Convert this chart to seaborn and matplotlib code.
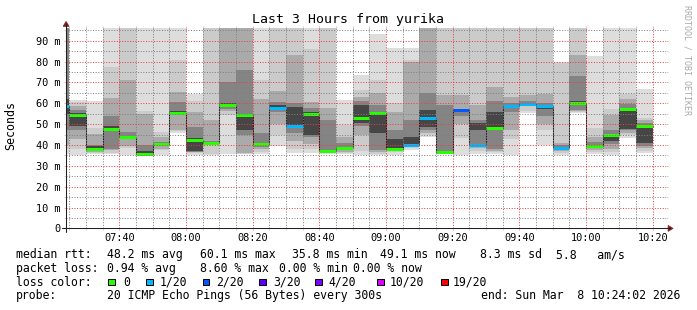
import matplotlib
matplotlib.use("Agg")
import matplotlib.pyplot as plt
from matplotlib.lines import Line2D
from matplotlib.patches import Polygon, Rectangle
from matplotlib.transforms import Affine2D
from matplotlib.ticker import FixedLocator, MultipleLocator
import seaborn as sns
import pandas as pd

# ---------------- data ----------------
bar_times = ["07:20", "07:25", "07:30", "07:35", "07:40", "07:45", "07:50", "07:55",
             "08:00", "08:05", "08:10", "08:15", "08:20", "08:25", "08:30", "08:35",
             "08:40", "08:45", "08:50", "08:55", "09:00", "09:05", "09:10", "09:15",
             "09:20", "09:25", "09:30", "09:35", "09:40", "09:45", "09:50", "09:55",
             "10:00", "10:05", "10:10", "10:15"]
median_rtt = [58.7, 54.3, 38.2, 47.6, 44.0, 35.8, 40.3, 55.6, 42.4, 40.8, 59.1, 54.3,
              40.3, 57.9, 49.1, 54.8, 37.2, 38.7, 53.0, 55.2, 38.3, 39.9, 53.2, 36.6,
              56.6, 40.2, 48.0, 58.5, 59.8, 58.5, 38.6, 60.1, 39.5, 44.7, 57.2, 49.1]
lost_pings = [1, 0, 0, 0, 0, 0, 0, 0, 0, 0, 0, 0,
              0, 1, 1, 0, 0, 0, 0, 0, 0, 1, 1, 0,
              2, 1, 0, 1, 1, 1, 1, 0, 0, 0, 0, 0]
# sorted ping times (ms) per 5-minute step, outermost pair first
smoke = [
    [35.5, 38, 40, 47, 55, 62, 100, 105, 110, 115],
    [35.2, 38, 43, 47, 49, 55.5, 57, 58.5, 60.5, 61.6],
    [35.5, 36, 36.5, 37, 37.5, 39.5, 40, 45.5, 48, 61],
    [35.5, 36, 37.6, 38, 46.5, 49, 54, 62.5, 77.5, 110],
    [35.2, 38.5, 39.5, 43.3, 43.8, 44.5, 46.4, 71, 100, 110],
    [35, 35.2, 35.4, 35.6, 35.8, 37, 40, 55, 56.5, 110],
    [35.2, 37.6, 38, 39.5, 40, 40.6, 41.5, 44, 46.4, 110],
    [46, 46.5, 47, 54.5, 55, 56.2, 60.8, 65.6, 80.8, 110],
    [35.2, 36, 36.5, 36.8, 37, 43.5, 48.7, 56, 61, 64.5],
    [35.2, 35.5, 40, 40.5, 40.6, 41, 42, 52, 100, 110],
    [35.5, 54.5, 56.5, 57.5, 58.5, 60, 70, 100, 110, 120],
    [35.5, 35.8, 36, 45, 47, 54.5, 76, 100, 105, 120],
    [35.5, 36.5, 38, 39, 40, 41, 46, 62, 71, 110],
    [39.5, 45, 50, 56, 57, 59, 60.5, 66, 100, 110],
    [36, 38, 42, 46, 48.5, 58.3, 60, 83, 100, 110],
    [36, 38, 40.5, 44, 45, 56, 58, 60.8, 86, 110],
    [35.5, 36, 36.5, 37, 37.2, 37.5, 52, 58, 105, 110],
    [35.6, 36.2, 36.7, 38, 38.4, 39, 40.8, 44, 49.5, 61.6],
    [35.3, 37, 45, 49, 50.6, 59, 61, 63, 66.4, 73.5],
    [35.2, 35.8, 36.5, 37.5, 46, 54.5, 59.2, 65, 71, 93.5],
    [35.3, 36.5, 37.5, 38, 38.4, 43, 47, 56, 60, 86.4],
    [37.5, 38.5, 39.2, 39.5, 40, 44, 52, 80, 81, 86.4],
    [44, 45, 46, 47, 48.5, 57, 65, 100, 105, 110],
    [35.5, 36, 36.3, 36.5, 36.6, 36.7, 59, 64, 100, 110],
    [35.3, 43.5, 50, 54, 56, 57, 57.5, 64, 100, 110],
    [35.5, 37, 38.5, 40, 47, 50.5, 52, 59, 100, 110],
    [35.5, 36.7, 37, 38, 48.5, 56, 61, 68, 100, 110],
    [35.3, 43, 47, 56, 58, 59, 60, 63, 100, 110],
    [55.3, 56.5, 58.5, 59.3, 59.6, 60, 61, 64, 100, 110],
    [40, 47, 50, 54, 57.5, 59, 60, 64.7, 100, 110],
    [35.3, 36, 37, 38, 38.5, 39, 40, 41, 79.5, 80],
    [55.5, 56, 56.5, 57, 59.6, 61, 73, 83, 100, 110],
    [35.5, 36.5, 37.5, 38.5, 39, 40, 41.5, 44, 48, 82.7],
    [35.3, 36.5, 38, 40.5, 42, 45.5, 47, 54.5, 57.5, 110],
    [43.2, 45, 46, 47.2, 47.5, 58, 59.5, 62, 64.7, 110],
    [36, 37, 38.5, 39.5, 40.8, 49.5, 50.5, 52, 53, 66.7],
]
step_minutes = 5
graph_start = "07:24:02"
graph_end = "10:24:02"
x_tick_labels = ["07:40", "08:00", "08:20", "08:40", "09:00", "09:20", "09:40", "10:00", "10:20"]
y_ticks = [0, 10, 20, 30, 40, 50, 60, 70, 80, 90]
y_tick_labels = ["0", "10 m", "20 m", "30 m", "40 m", "50 m", "60 m", "70 m", "80 m", "90 m"]
title = "Last 3 Hours from yurika"
y_label = "Seconds"
watermark = "RRDTOOL / TOBI OETIKER"
loss_levels = [0, 1, 2, 3, 4, 10, 19]
loss_labels = ["0", "1/20", "2/20", "3/20", "4/20", "10/20", "19/20"]
loss_colors = ["#26ff00", "#00b8ff", "#0059ff", "#5e00ff", "#7e00ff", "#dd00ff", "#ff0000"]
rtt_items = ["48.2 ms avg", "60.1 ms max", "35.8 ms min", "49.1 ms now", "8.3 ms sd", "5.8   am/s"]
loss_items = ["0.94 % avg", "8.60 % max", "0.00 % min", "0.00 % now"]
probe_text = "20 ICMP Echo Pings (56 Bytes) every 300s"
end_text = "end: Sun Mar  8 10:24:02 2026"


def to_min(s):
    parts = [int(p) for p in s.split(":")]
    m = parts[0] * 60 + parts[1]
    if len(parts) > 2:
        m += parts[2] / 60.0
    return m


# ---------------- style ----------------
sns.set_theme(style="white")
MONO = "DejaVu Sans Mono"
plt.rcParams["font.family"] = [MONO, "DejaVu Sans"]

W, H = 697, 310
fig = plt.figure(figsize=(W / 100, H / 100), dpi=100)
fig.patch.set_facecolor("white")
pxT = Affine2D().scale(1.0 / W, -1.0 / H).translate(0, 1) + fig.transFigure

X0, Y0 = 66.1, 228.4       # origin in pixels
XS, YS = 600, 200          # canvas size in pixels
ax = fig.add_axes([X0 / W, (H - Y0) / H, XS / W, YS / H])
ax.set_facecolor("white")
for s in ax.spines.values():
    s.set_visible(False)

t_start = to_min(graph_start)
t_end = to_min(graph_end)
ax.set_xlim(t_start, t_end)
ax.set_ylim(0, YS / 2.0844)

layer_colors = ["#dddddd", "#cbcbcb", "#aaaaaa", "#848484", "#464646"]
times = [to_min(t) for t in bar_times]

# smoke layers
n = len(smoke[0])
for j in range(n // 2):
    lows = [sorted(v)[j] for v in smoke]
    highs = [sorted(v)[n - 1 - j] for v in smoke]
    ax.bar(times, [h - l for h, l in zip(highs, lows)], bottom=lows, width=step_minutes,
           align="edge", color=layer_colors[j], linewidth=0, antialiased=False, zorder=1)

# median step line
df = pd.DataFrame({"t": times + [times[-1] + step_minutes],
                   "rtt": median_rtt + [median_rtt[-1]]})
sns.lineplot(data=df, x="t", y="rtt", ax=ax, drawstyle="steps-post", color="#202020",
             linewidth=0.75, estimator=None, sort=False, zorder=1.5)

# loss coloured median segments
for lvl, col in zip(loss_levels, loss_colors):
    idx = [i for i, l in enumerate(lost_pings) if l == lvl]
    if not idx:
        continue
    ax.hlines([median_rtt[i] for i in idx], [times[i] for i in idx],
              [times[i] + step_minutes for i in idx], colors=col, linewidth=2.16,
              zorder=2)

# grid (drawn on top, rrdtool style, dotted)
ax.set_axisbelow(False)
ax.xaxis.set_major_locator(FixedLocator([to_min(t) for t in x_tick_labels]))
ax.xaxis.set_minor_locator(MultipleLocator(5))
ax.set_xticklabels(x_tick_labels)
ax.yaxis.set_major_locator(FixedLocator(y_ticks))
ax.yaxis.set_minor_locator(MultipleLocator(5))
ax.set_yticklabels(y_tick_labels)
grid_col = (0.5, 0.5, 0.5, 0.35)
mgrid_col = (0.9, 0.25, 0.25, 0.4)
ax.grid(which="minor", color=grid_col, linestyle=":", linewidth=0.72)
ax.grid(which="major", color=mgrid_col, linestyle=":", linewidth=0.72)
ax.tick_params(which="minor", length=1.44, width=0.72, color=grid_col, direction="out",
               top=True, right=True, bottom=True, left=True)
ax.tick_params(which="major", length=1.44, width=0.72, color=mgrid_col, direction="out",
               top=True, right=True, bottom=True, left=True, labelsize=7.4,
               labelcolor="#000000")
ax.tick_params(axis="x", which="major", pad=1.6)
ax.tick_params(axis="y", which="major", pad=2.4)
for lab in ax.get_xticklabels() + ax.get_yticklabels():
    lab.set_fontfamily(MONO)
ax.set_xlabel("")
ax.set_ylabel("")

# axes lines and arrows
axis_col = "#1f1f1f"
arrow_col = "#7f1f1f"
fig.add_artist(Line2D([X0 - 4, X0 + XS + 4], [Y0, Y0], transform=pxT, color=axis_col, lw=0.75))
fig.add_artist(Line2D([X0, X0], [Y0 + 4, Y0 - YS - 4], transform=pxT, color=axis_col, lw=0.75))
fig.add_artist(Polygon([[X0 + XS + 2, Y0 - 3], [X0 + XS + 2, Y0 + 3], [X0 + XS + 7, Y0]],
                       closed=True, transform=pxT, facecolor=arrow_col, edgecolor=arrow_col, lw=0.5))
fig.add_artist(Polygon([[X0 - 3, Y0 - YS - 2], [X0 + 3, Y0 - YS - 2], [X0, Y0 - YS - 7]],
                       closed=True, transform=pxT, facecolor=arrow_col, edgecolor=arrow_col, lw=0.5))

# texts
fig.text(348, 23.3, title, transform=pxT, ha="center", va="baseline", fontsize=9.5,
         family=MONO, color="black")
fig.text(11, 126, y_label, transform=pxT, ha="center", va="center", rotation=90,
         fontsize=8.4, family=MONO, color="black")
fig.text(687.5, 60, watermark, transform=pxT, ha="center", va="center", rotation=270,
         fontsize=6, family=MONO, color="#aaaaaa")

LFS = 8.3
rows = [258.2, 271.9, 285.6, 299.3]


def txt(x, y, s, ha="left"):
    fig.text(x, y, s, transform=pxT, ha=ha, va="baseline", fontsize=LFS, family=MONO,
             color="black")


txt(16, rows[0], "median rtt:")
for x, s in zip([106.8, 200.5, 291.8, 379.8, 479.5, 556.2], rtt_items):
    txt(x, rows[0], s)
txt(16, rows[1], "packet loss:")
for x, s in zip([106.8, 200.5, 278.8, 353.3], loss_items):
    txt(x, rows[1], s)
txt(16, rows[2], "loss color:")
sq_x = [108.3, 146.0, 202.7, 259.0, 315.0, 377.3, 441.0]
lab_x = [122.8, 159.5, 216.2, 272.8, 328.5, 389.5, 452.8]
for sx, lx, col, lab in zip(sq_x, lab_x, loss_colors, loss_labels):
    fig.add_artist(Rectangle((sx, rows[2] - 7.0), 6.7, 6.7, transform=pxT,
                             facecolor=col, edgecolor="black", lw=0.72))
    txt(lx, rows[2], lab)
txt(16, rows[3], "probe:")
txt(106.8, rows[3], probe_text)
txt(680.5, rows[3], end_text, ha="right")

fig.savefig("out.png", dpi=100, facecolor="white")
